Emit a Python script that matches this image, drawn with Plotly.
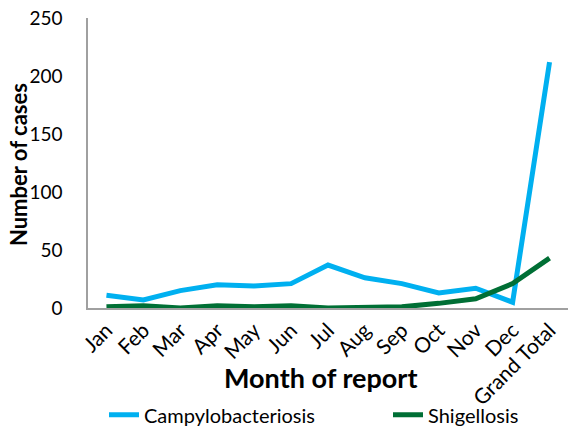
import plotly.graph_objects as go

months = ["Jan", "Feb", "Mar", "Apr", "May", "Jun", "Jul", "Aug", "Sep", "Oct", "Nov", "Dec", "Grand Total"]
campylobacteriosis = [11, 7, 15, 20, 19, 21, 37, 26, 21, 13, 17, 5, 212]
shigellosis = [1, 2, 0, 2, 1, 2, 0, 1, 1, 4, 8, 21, 43]

FONT = "Lato, 'Open Sans', sans-serif"

W, H = 568, 429

fig = go.Figure()
fig.add_trace(go.Scatter(x=months, y=campylobacteriosis, mode="lines", name="Campylobacteriosis",
                         line=dict(color="#00B0F0", width=5), legend="legend"))
fig.add_trace(go.Scatter(x=months, y=shigellosis, mode="lines", name="Shigellosis",
                         line=dict(color="#006F35", width=5), legend="legend2"))

legend_common = dict(orientation="h", xref="container", yref="container",
                     xanchor="left", y=0.033, yanchor="middle",
                     font=dict(size=20), bgcolor="rgba(0,0,0,0)")

fig.update_layout(
    width=W, height=H,
    margin=dict(l=88, r=0, t=18, b=121),
    paper_bgcolor="white", plot_bgcolor="white",
    font=dict(family=FONT, color="black", size=19),
    showlegend=True,
    legend=dict(x=104 / W, **legend_common),
    legend2=dict(x=388 / W, **legend_common),
    xaxis=dict(showgrid=False, showline=True, linecolor="#A0A0A0", linewidth=1.5,
               tickangle=-45, tickfont=dict(size=21), ticks="", automargin=False,
               ticklabeloverflow="allow", range=[-0.5, 12.5]),
    yaxis=dict(showgrid=False, showline=True, linecolor="#A0A0A0", linewidth=1.5,
               range=[0, 250], dtick=50, tickfont=dict(size=19), automargin=False,
               ticks="outside", ticklen=20, tickcolor="rgba(0,0,0,0)",
               ticklabeloverflow="allow"),
    annotations=[
        dict(text="<b>Number of cases</b>", xref="paper", yref="paper",
             x=-0.1458, y=0.493, xanchor="center", yanchor="middle",
             textangle=-90, showarrow=False, font=dict(size=22)),
        dict(text="<b>Month of report</b>", xref="paper", yref="paper",
             x=0.485, y=-0.241, xanchor="center", yanchor="middle",
             showarrow=False, font=dict(size=27)),
    ],
)

fig.write_html("out.html", config={"displayModeBar": False},
               post_script="document.body.style.margin='0px';")
